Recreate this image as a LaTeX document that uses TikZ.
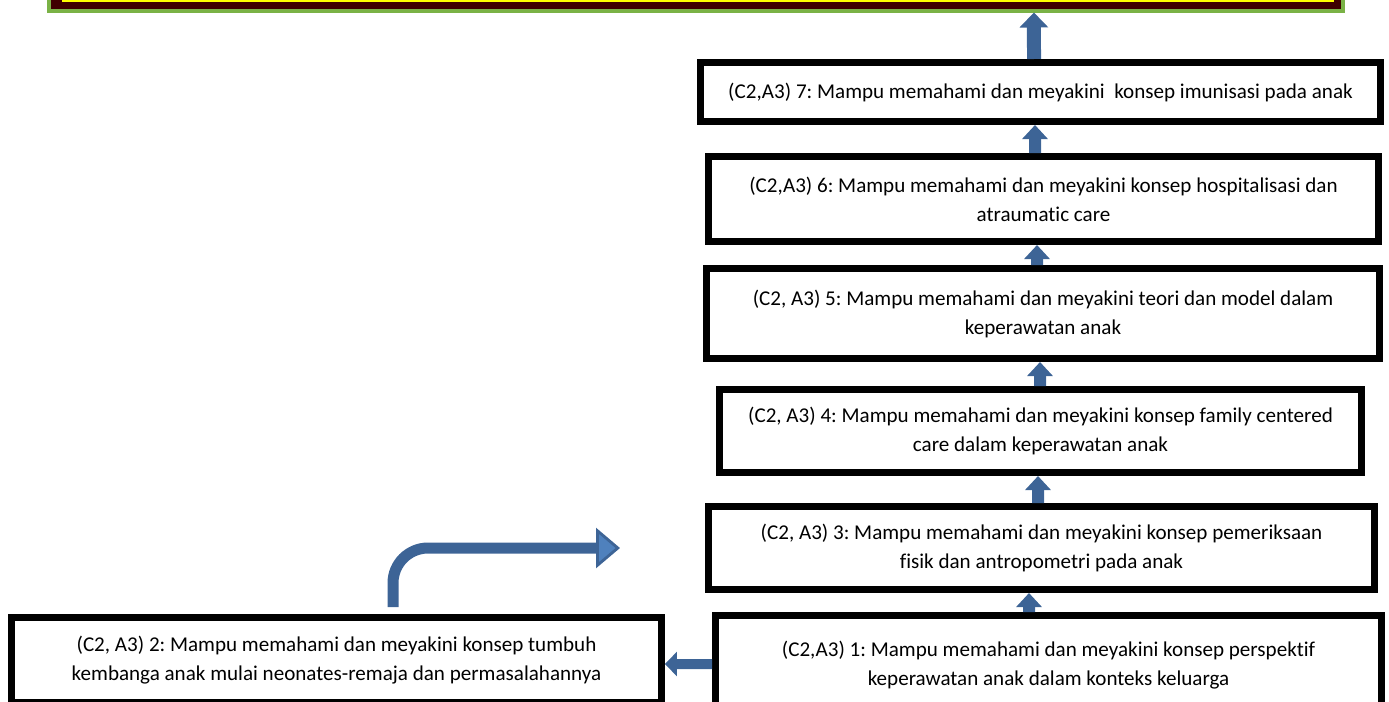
\documentclass[tikz,border=0pt]{standalone}
\usepackage{fontspec}
\setmainfont{Carlito}[Ligatures=NoCommon]
\usetikzlibrary{arrows.meta,positioning}
\definecolor{arrowblue}{RGB}{61,100,150}
\definecolor{arrowfill}{RGB}{79,129,189}
\definecolor{goalred}{RGB}{63,0,0}
\definecolor{goalgreen}{RGB}{122,178,70}
\definecolor{goalyellow}{RGB}{255,255,0}
\frenchspacing
\tikzset{
  capbox/.style={draw=black, line width=4pt, fill=white, align=center, inner sep=0pt,
    font=\fontsize{12}{16.5}\selectfont},
  uparrow/.style={draw=arrowblue, line width=0.24cm, -{Triangle[width=0.5cm,length=0.28cm]}},
  bigarrow/.style={draw=arrowblue, line width=0.28cm, -{Triangle[width=0.56cm,length=0.3cm]}},
  sidearrow/.style={draw=arrowblue, line width=0.2cm, -{Triangle[width=0.48cm,length=0.24cm]}},
  bentarrow/.style={draw=arrowblue, line width=0.22cm, rounded corners=0.7cm,
    -{Triangle[width=0.8cm,length=0.48cm,fill=arrowfill,line width=1.6pt]}}
}
\begin{document}
\begin{tikzpicture}[x=0.02cm, y=-0.02cm]
\useasboundingbox (0,0) rectangle (1389,701);
\clip (0,0) rectangle (1389,701);

% goal box at the top, cut off
\node[fill=goalred, draw=goalgreen, line width=0.08cm, minimum width=25.9cm, minimum height=1.01cm] (goal) at (696,-14.75) {};
\draw[goalyellow, line width=0.04cm] (62,0.5) -- (1334,0.5);

% learning outcomes
\node[capbox, minimum width=13.6cm, minimum height=1.18cm] (b7) at (1040.5,92)
  {(C2,A3) 7: Mampu memahami dan meyakini \ konsep imunisasi pada anak};
\node[capbox, minimum width=13.4cm, minimum height=1.7cm] (b6) at (1043.5,199)
  {(C2,A3) 6: Mampu memahami dan meyakini konsep hospitalisasi dan\\atraumatic care};
\node[capbox, minimum width=13.46cm, minimum height=1.8cm] (b5) at (1043,313.5)
  {(C2, A3) 5: Mampu memahami dan meyakini teori dan model dalam\\keperawatan anak};
\node[capbox, minimum width=12.84cm, minimum height=1.66cm] (b4) at (1040.5,431)
  {(C2, A3) 4: Mampu memahami dan meyakini konsep family centered\\care dalam keperawatan anak};
\node[capbox, minimum width=13.32cm, minimum height=1.66cm] (b3) at (1041.5,548)
  {(C2, A3) 3: Mampu memahami dan meyakini konsep pemeriksaan\\fisik dan antropometri pada anak};
\node[capbox, minimum width=13.32cm, minimum height=1.98cm] (b1) at (1048.5,665)
  {(C2,A3) 1: Mampu memahami dan meyakini konsep perspektif\\keperawatan anak dalam konteks keluarga};
\node[capbox, minimum width=13cm, minimum height=1.7cm] (b2) at (336.5,660)
  {(C2, A3) 2: Mampu memahami dan meyakini konsep tumbuh\\kembanga anak mulai neonates-remaja dan permasalahannya};

% arrows between the boxes
\draw[uparrow] ([xshift=-0.39cm]b1.north) -- ([xshift=-0.25cm]b3.south);
\draw[uparrow] ([xshift=-0.07cm]b3.north) -- ([xshift=-0.05cm]b4.south);
\draw[uparrow] ([xshift=-0.01cm]b4.north) -- ([xshift=-0.06cm]b5.south);
\draw[uparrow] ([xshift=-0.12cm]b5.north) -- ([xshift=-0.13cm]b6.south);
\draw[uparrow] ([xshift=-0.17cm]b6.north) -- ([xshift=-0.11cm]b7.south);
\draw[bigarrow] ([xshift=-0.13cm]b7.north) -- ([xshift=6.76cm]goal.south);
\draw[sidearrow] ([yshift=0.02cm]b1.west) -- ([yshift=-0.08cm]b2.east);

% bent arrow
\coordinate (bendstart) at (393,607);
\coordinate (bendend) at (620,548);
\draw[bentarrow] (bendstart) |- (bendend);
\end{tikzpicture}
\end{document}
